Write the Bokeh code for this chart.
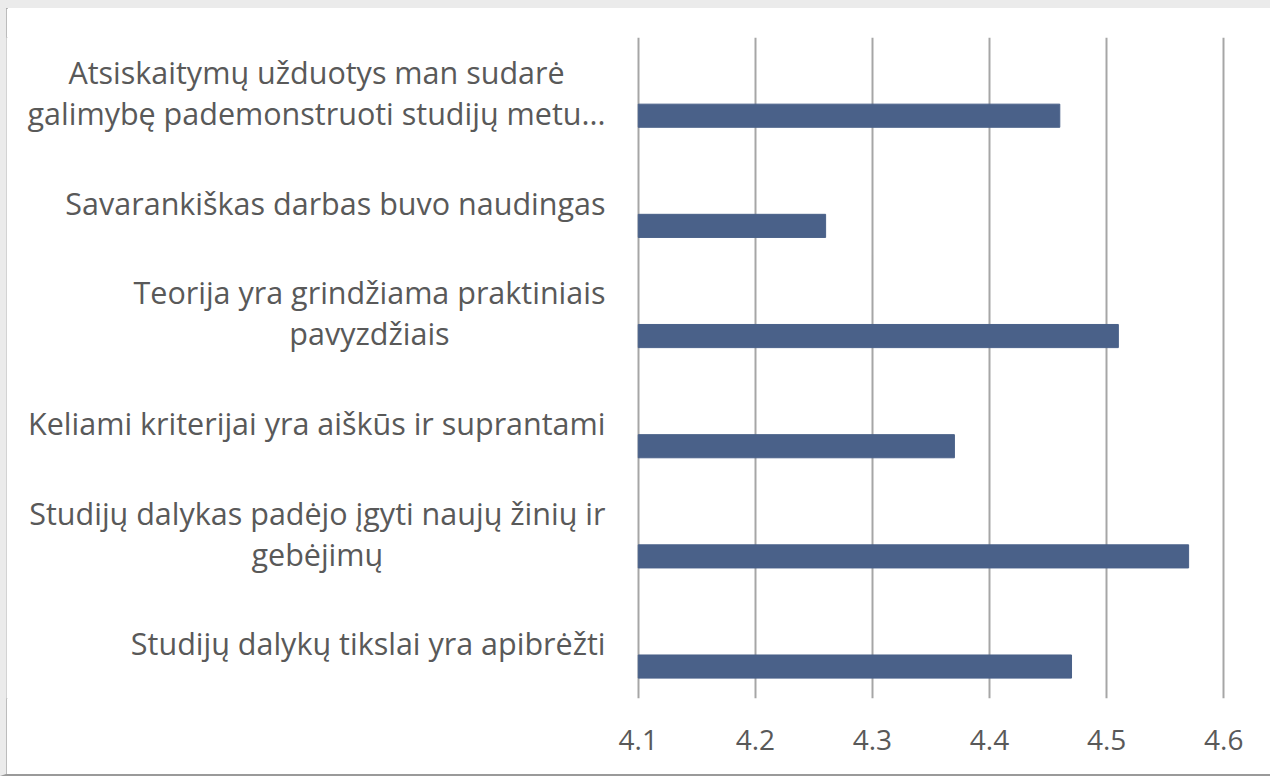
from bokeh.plotting import figure
from bokeh.layouts import row
from bokeh.models import Range1d, FactorRange, FixedTicker, ColumnDataSource
from bokeh.core.properties import value
from bokeh.transform import dodge
from bokeh.embed import file_html
from bokeh.resources import INLINE

categories = [
    "Atsiskaitymų užduotys man sudarė\ngalimybę pademonstruoti studijų metu...",
    "Savarankiškas darbas buvo naudingas",
    "Teorija yra grindžiama praktiniais\npavyzdžiais",
    "Keliami kriterijai yra aiškūs ir suprantami",
    "Studijų dalykas padėjo įgyti naujų žinių ir\ngebėjimų",
    "Studijų dalykų tikslai yra apibrėžti",
]
values = [4.46, 4.26, 4.51, 4.37, 4.57, 4.47]
x_ticks = [4.1, 4.2, 4.3, 4.4, 4.5, 4.6]

TEXT = "#595959"
FONT = "Open Sans"
LEFT_W = 600
TOTAL_W = 1264
H = 766
TOP, BOTTOM = 29, 76

source = ColumnDataSource(data=dict(cat=categories, val=values))
y_range = FactorRange(factors=list(reversed(categories)))

# label panel (category names, right-anchored blocks with centred lines)
lab = figure(
    width=LEFT_W, height=H, y_range=y_range, x_range=Range1d(0, LEFT_W),
    output_backend="svg", toolbar_location=None,
    min_border_left=0, min_border_right=0, min_border_top=TOP, min_border_bottom=BOTTOM,
)
lab.text(x=LEFT_W - 1, y="cat", text="cat", source=source,
         anchor="center_right", text_align="center", text_baseline="middle",
         text_font=value(FONT), text_font_size="30.5px", text_color=TEXT,
         text_line_height=0.98)
lab.axis.visible = False
lab.grid.visible = False
lab.outline_line_color = None
lab.border_fill_color = "white"

# bar panel
p = figure(
    width=TOTAL_W - LEFT_W, height=H, y_range=y_range,
    x_range=Range1d(4.0985, 4.6015),
    output_backend="svg", toolbar_location=None,
    min_border_left=30, min_border_right=45, min_border_top=TOP, min_border_bottom=BOTTOM,
)
p.hbar(y=dodge("cat", -0.21, range=y_range), left=x_ticks[0], right="val", height=0.21,
       source=source, fill_color="#4a6189", line_color="#4a6189")

p.outline_line_color = None
p.background_fill_color = "white"
p.border_fill_color = "white"

p.yaxis.visible = False
p.xaxis.ticker = FixedTicker(ticks=x_ticks)
p.xaxis.axis_line_color = None
p.xaxis.major_tick_line_color = None
p.xaxis.minor_tick_line_color = None
p.xaxis.major_label_text_font = FONT
p.xaxis.major_label_text_font_size = "28px"
p.xaxis.major_label_text_color = TEXT
p.xaxis.major_label_standoff = 25

p.xgrid.ticker = FixedTicker(ticks=x_ticks)
p.xgrid.grid_line_color = "#a6a6a6"
p.xgrid.grid_line_width = 2
p.ygrid.grid_line_color = None

layout = row(lab, p, spacing=0, styles={
    "border-top": "8px solid #ebebeb",
    "border-left": "6px solid #ebebeb",
    "border-bottom": "2px solid #9a9a9a",
    "box-shadow": "inset 2px 0 0 #a6a6a6",
})
open("out.html", "w").write(file_html(layout, INLINE))
